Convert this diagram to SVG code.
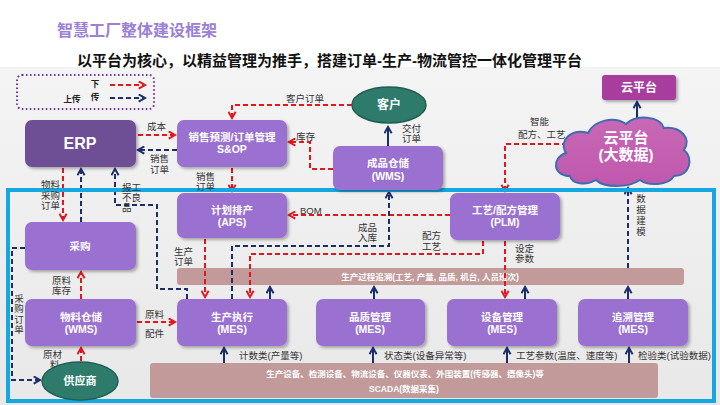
<svg xmlns="http://www.w3.org/2000/svg" width="720" height="405" viewBox="0 0 720 405">
<defs>
<style>
.t{font-family:"Liberation Sans","Noto Sans CJK SC",sans-serif}
.nd{fill:#9a6fd1}
.nt{font-family:"Liberation Sans","Noto Sans CJK SC",sans-serif;font-weight:bold;font-size:10.5px;fill:#fff;text-anchor:middle}
.lb{font-family:"Liberation Sans","Noto Sans CJK SC",sans-serif;font-size:9.5px;fill:#333}
.r{fill:none;stroke:#e3161e;stroke-width:2;stroke-dasharray:5 3;marker-end:url(#ar)}
.b{fill:none;stroke:#1b2d6b;stroke-width:2;stroke-dasharray:5 3;marker-end:url(#ab)}
.bs{fill:none;stroke:#1b2d6b;stroke-width:2;marker-end:url(#ab)}
.bar{fill:#c29a9a}
.bt{font-family:"Liberation Sans","Noto Sans CJK SC",sans-serif;font-weight:bold;font-size:8.5px;fill:#fff;text-anchor:middle}
</style>
<marker id="ar" viewBox="0 0 10 10" refX="8" refY="5" markerWidth="9" markerHeight="9" orient="auto" markerUnits="userSpaceOnUse"><path d="M1,1 L8,5 L1,9" fill="none" stroke="#e3161e" stroke-width="2.2"/></marker>
<marker id="ab" viewBox="0 0 10 10" refX="8" refY="5" markerWidth="9" markerHeight="9" orient="auto" markerUnits="userSpaceOnUse"><path d="M1,1 L8,5 L1,9" fill="none" stroke="#1b2d6b" stroke-width="2.2"/></marker>
<filter id="sh" x="-10%" y="-10%" width="130%" height="140%"><feDropShadow dx="2" dy="2" stdDeviation="1.5" flood-color="#000" flood-opacity="0.3"/></filter>
<linearGradient id="bg" x1="0" y1="0" x2="0" y2="1"><stop offset="0" stop-color="#f4f4f4"/><stop offset="1" stop-color="#e8e8e8"/></linearGradient>
<linearGradient id="cl" x1="0" y1="0" x2="0" y2="1"><stop offset="0" stop-color="#c868b6"/><stop offset="1" stop-color="#c058ad"/></linearGradient>
</defs>
<rect x="0" y="0" width="720" height="405" fill="#fff"/>
<rect x="0" y="67" width="720" height="338" fill="url(#bg)"/>
<text class="t" x="57" y="36" font-size="16" font-weight="bold" fill="#9a80d6">智慧工厂整体建设框架</text>
<text class="t" x="77" y="66" font-size="15" font-weight="bold" fill="#111">以平台为核心，以精益管理为推手，搭建订单-生产-物流管控一体化管理平台</text>

<g id="legend">
<rect x="17" y="75" width="137" height="34" rx="5" fill="none" stroke="#7030a0" stroke-width="2" stroke-dasharray="1.5 2.5"/>
<text class="t" font-size="8.5" font-weight="bold" fill="#222" text-anchor="middle"><tspan x="95" y="87">下</tspan><tspan x="95" y="100">传</tspan></text>
<text class="t" x="72" y="102" font-size="8.5" font-weight="bold" fill="#222" text-anchor="middle">上传</text>
<path class="r" d="M110,85 H145"/>
<path class="b" d="M110,98 H145"/>
</g>

<g id="bars">
<rect class="bar" x="177" y="268" width="507" height="17" rx="3"/>
<text class="bt" x="430" y="280">生产过程追溯(工艺, 产量, 品质, 机台, 人员班次)</text>
<rect class="bar" x="150" y="363" width="508" height="35" rx="3"/>
<text class="bt" x="405" y="377">生产设备、检测设备、物流设备、仪器仪表、外围装置(传感器、摄像头)等</text>
<text class="bt" x="404" y="392">SCADA(数据采集)</text>
</g>

<g id="connectors">
<path class="r" d="M352,105 H232 V118"/>
<path class="r" d="M138,135 H175"/>
<path class="r" d="M333,169 H310 V142 H289"/>
<path class="r" d="M232,168 V191"/>
<path class="r" d="M63,168 V220"/>
<path class="r" d="M81,299 V272"/>
<path class="r" d="M81,361 V348"/>
<path class="r" d="M137,322 H175"/>
<path class="r" d="M205,239 V297"/>
<path class="r" d="M450,215 H289"/>
<path class="r" d="M483,241 V254 H250 V297"/>
<path class="r" d="M505,241 V297"/>
<path class="r" d="M567,144 H505 V191"/>
<path class="b" d="M177,150 H138"/>
<path class="b" d="M81,222 V169"/>
<path class="b" d="M187,299 V289 H157 V205 H115 V169"/>
<path class="b" d="M25,248 H12 V380 H40"/>
<path class="bs" d="M388,146 V127"/>
<path class="b" d="M232,299 V246 H389 V192"/>
<path class="b" d="M628,268 V188"/>
<path class="bs" d="M637,118 V102"/>
<path class="bs" d="M270,299 V287"/>
<path class="bs" d="M374,299 V287"/>
<path class="bs" d="M525,299 V287"/>
<path class="bs" d="M628,299 V287"/>
<path class="bs" d="M224,363 V348"/>
<path class="bs" d="M373,363 V348"/>
<path class="bs" d="M507,363 V348"/>
<path class="bs" d="M629,363 V348"/>
</g>

<rect x="8" y="190" width="706" height="211" fill="none" stroke="#14a7e0" stroke-width="4"/>

<g id="labels">
<text class="lb" x="305" y="102" text-anchor="middle">客户订单</text>
<text class="lb"><tspan x="402" y="132">交付</tspan><tspan x="402" y="142">订单</tspan></text>
<text class="lb" x="296" y="140">库存</text>
<text class="lb" x="147" y="130">成本</text>
<text class="lb"><tspan x="150" y="162">销售</tspan><tspan x="150" y="173">订单</tspan></text>
<text class="lb"><tspan x="196" y="180">销售</tspan><tspan x="196" y="190">订单</tspan></text>
<text class="lb"><tspan x="41" y="188">物料</tspan><tspan x="41" y="199">采购</tspan><tspan x="41" y="209">订单</tspan></text>
<text class="lb"><tspan x="122" y="191">报工</tspan><tspan x="122" y="201">不良</tspan><tspan x="122" y="211">品</tspan></text>
<text class="lb" text-anchor="middle"><tspan x="19" y="302">采</tspan><tspan x="19" y="312">购</tspan><tspan x="19" y="323">订</tspan><tspan x="19" y="333">单</tspan></text>
<text class="lb"><tspan x="52" y="284">原料</tspan><tspan x="52" y="294">库存</tspan></text>
<text class="lb"><tspan x="43" y="358">原材</tspan><tspan x="50" y="368">料</tspan><tspan x="47" y="378">入库</tspan></text>
<text class="lb" x="145" y="318">原料</text><text class="lb" x="145" y="337">配件</text>
<text class="lb"><tspan x="174" y="255">生产</tspan><tspan x="174" y="265">订单</tspan></text>
<text class="lb"><tspan x="358" y="231">成品</tspan><tspan x="358" y="241">入库</tspan></text>
<text class="lb" x="300" y="214">BOM</text>
<text class="lb"><tspan x="422" y="239">配方</tspan><tspan x="422" y="250">工艺</tspan></text>
<text class="lb"><tspan x="515" y="252">设定</tspan><tspan x="515" y="262">参数</tspan></text>
<text class="lb"><tspan x="530" y="125">智能</tspan><tspan x="518" y="138">配方、工艺</tspan></text>
<text class="lb" text-anchor="middle"><tspan x="641" y="202">数</tspan><tspan x="641" y="213">据</tspan><tspan x="641" y="224">建</tspan><tspan x="641" y="235">模</tspan></text>
<text class="lb" x="239" y="359">计数类(产量等)</text>
<text class="lb" x="384" y="359">状态类(设备异常等)</text>
<text class="lb" x="516" y="359">工艺参数(温度、速度等)</text>
<text class="lb" x="638" y="359">检验类(试验数据)</text>
</g>

<g id="erp"><rect x="25" y="120" width="111" height="47" rx="7" fill="#6e5095" filter="url(#sh)"/><text class="nt" x="80" y="149" style="font-size:16px">ERP</text></g>
<g id="sop"><rect class="nd" x="177" y="120" width="110" height="47" rx="7" filter="url(#sh)"/><text class="nt"><tspan x="232" y="141">销售预测/订单管理</tspan><tspan x="232" y="153">S&amp;OP</tspan></text></g>
<g id="customer"><ellipse cx="389" cy="105" rx="37" ry="18" fill="#2e7b6c" stroke="#1f5f52" stroke-width="1.5"/><text class="nt" x="389" y="109" style="font-size:12px">客户</text></g>
<g id="fgwms"><rect class="nd" x="333" y="146" width="110" height="44" rx="7" filter="url(#sh)"/><text class="nt"><tspan x="388" y="167">成品仓储</tspan><tspan x="388" y="180">(WMS)</tspan></text></g>
<g id="cloudbox"><rect x="602" y="75" width="74" height="25" rx="3" fill="#a83d9e" filter="url(#sh)"/><text class="nt" x="639" y="92" style="font-size:12px">云平台</text></g>
<g id="cloud"><path d="M570,176 C553,176 551,158 566,153 C558,140 572,128 588,133 C594,120 614,116 626,124 C636,114 660,116 664,128 C680,126 692,138 684,150 C694,158 690,176 674,176 C668,186 648,186 640,180 C628,188 604,188 596,180 C586,186 572,184 570,176 Z" fill="url(#cl)" stroke="#3e6cb0" stroke-width="2"/><text class="nt" style="font-size:15px"><tspan x="626" y="143">云平台</tspan><tspan x="626" y="160">(大数据)</tspan></text></g>
<g id="aps"><rect class="nd" x="177" y="193" width="110" height="45" rx="7" filter="url(#sh)"/><text class="nt"><tspan x="232" y="214">计划排产</tspan><tspan x="232" y="226">(APS)</tspan></text></g>
<g id="plm"><rect class="nd" x="450" y="193" width="110" height="47" rx="7" filter="url(#sh)"/><text class="nt"><tspan x="505" y="214">工艺/配方管理</tspan><tspan x="505" y="226">(PLM)</tspan></text></g>
<g id="purchase"><rect class="nd" x="25" y="222" width="111" height="48" rx="7" filter="url(#sh)"/><text class="nt" x="80" y="250">采购</text></g>
<g id="mwms"><rect class="nd" x="25" y="299" width="111" height="47" rx="7" filter="url(#sh)"/><text class="nt"><tspan x="81" y="321">物料仓储</tspan><tspan x="81" y="333">(WMS)</tspan></text></g>
<g id="mes"><rect class="nd" x="177" y="299" width="110" height="47" rx="7" filter="url(#sh)"/><text class="nt"><tspan x="232" y="321">生产执行</tspan><tspan x="232" y="333">(MES)</tspan></text></g>
<g id="qms"><rect class="nd" x="316" y="299" width="109" height="47" rx="7" filter="url(#sh)"/><text class="nt"><tspan x="370" y="321">品质管理</tspan><tspan x="370" y="333">(MES)</tspan></text></g>
<g id="eqm"><rect class="nd" x="447" y="299" width="110" height="47" rx="7" filter="url(#sh)"/><text class="nt"><tspan x="502" y="321">设备管理</tspan><tspan x="502" y="333">(MES)</tspan></text></g>
<g id="trace"><rect class="nd" x="578" y="299" width="110" height="47" rx="7" filter="url(#sh)"/><text class="nt"><tspan x="633" y="321">追溯管理</tspan><tspan x="633" y="333">(MES)</tspan></text></g>
<g id="supplier"><ellipse cx="80" cy="381" rx="38" ry="19" fill="#2e7b6c" stroke="#1f5f52" stroke-width="1.5"/><text class="nt" x="80" y="385" style="font-size:11px">供应商</text></g>
</svg>
